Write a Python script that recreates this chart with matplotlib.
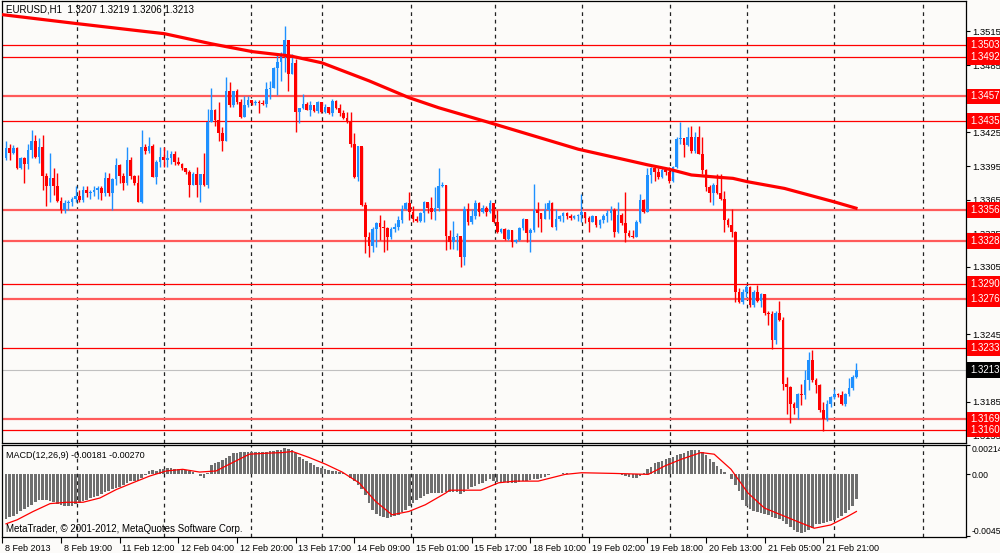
import numpy as np
import matplotlib
matplotlib.use("Agg")
import matplotlib.pyplot as plt
import matplotlib.transforms as mtransforms

# ---------------- data ----------------
first_open = 1.3402

closes = [
    1.3411, 1.3407, 1.3411, 1.3393, 1.3402, 1.3397, 1.3409, 1.3417, 1.3403, 1.3412,
    1.3386, 1.3377, 1.3384, 1.3377, 1.3364, 1.3356, 1.3362, 1.3363, 1.3366, 1.3368,
    1.3365, 1.3374, 1.3371, 1.3372, 1.3374, 1.3375, 1.3371, 1.3384, 1.3371, 1.3383,
    1.3396, 1.3386, 1.3380, 1.3400, 1.3386, 1.3380, 1.3363, 1.3412, 1.3408, 1.3413,
    1.3385, 1.3399, 1.3403, 1.3400, 1.3402, 1.3406, 1.3399, 1.3397, 1.3393, 1.3390,
    1.3378, 1.3388, 1.3378, 1.3388, 1.3378, 1.3434, 1.3445, 1.3436, 1.3424, 1.3417,
    1.3462, 1.3449, 1.3462, 1.3452, 1.3439, 1.3449, 1.3454, 1.3451, 1.3452, 1.3451,
    1.3450, 1.3464, 1.3465, 1.3482, 1.3488, 1.3495, 1.3507, 1.3477, 1.3487, 1.3443,
    1.3447, 1.3450, 1.3445, 1.3449, 1.3444, 1.3452, 1.3443, 1.3448, 1.3442, 1.3453,
    1.3447, 1.3442, 1.3438, 1.3434, 1.3415, 1.3385, 1.3413, 1.3360, 1.3332, 1.3324,
    1.3339, 1.3344, 1.3341, 1.3340, 1.3332, 1.3339, 1.3341, 1.3347, 1.3357, 1.3362,
    1.3354, 1.3348, 1.3346, 1.3353, 1.3363, 1.3358, 1.3354, 1.3358, 1.3377, 1.3378,
    1.3333, 1.3327, 1.3332, 1.3333, 1.3314, 1.3357, 1.3345, 1.3350, 1.3362, 1.3354,
    1.3358, 1.3354, 1.3362, 1.3345, 1.3336, 1.3339, 1.3330, 1.3338, 1.3327, 1.3329,
    1.3340, 1.3348, 1.3335, 1.3338, 1.3356, 1.3353, 1.3348, 1.3356, 1.3362, 1.3341,
    1.3348, 1.3350, 1.3353, 1.3350, 1.3349, 1.3350, 1.3351, 1.3354, 1.3349, 1.3345,
    1.3350, 1.3342, 1.3347, 1.3350, 1.3353, 1.3356, 1.3336, 1.3351, 1.3344, 1.3335,
    1.3333, 1.3332, 1.3345, 1.3365, 1.3354, 1.3387, 1.3393, 1.3390, 1.3385, 1.3391,
    1.3390, 1.3382, 1.3394, 1.3419, 1.3420, 1.3414, 1.3421, 1.3408, 1.3421, 1.3406,
    1.3391, 1.3376, 1.3371, 1.3378, 1.3371, 1.3366, 1.3347, 1.3342, 1.3336, 1.3283,
    1.3274, 1.3283, 1.3287, 1.3271, 1.3283, 1.3275, 1.3281, 1.3264, 1.3263, 1.3240,
    1.3264, 1.3258, 1.3201, 1.3198, 1.3183, 1.3179, 1.3192, 1.3191, 1.3204, 1.3222,
    1.3204, 1.3200, 1.3177, 1.3169, 1.3183, 1.3189, 1.3192, 1.3191, 1.3183, 1.3192,
    1.3197, 1.3207, 1.3213,
]

highs = [
    1.3417, 1.3415, 1.3414, 1.3412, 1.3403, 1.3403, 1.3415, 1.3427, 1.3423, 1.3420,
    1.3423, 1.3389, 1.3407, 1.3393, 1.3389, 1.3367, 1.3365, 1.3365, 1.3367, 1.3377,
    1.3374, 1.3377, 1.3377, 1.3374, 1.3377, 1.3377, 1.3377, 1.3390, 1.3389, 1.3384,
    1.3402, 1.3397, 1.3389, 1.3412, 1.3403, 1.3387, 1.3387, 1.3427, 1.3415, 1.3421,
    1.3415, 1.3400, 1.3412, 1.3412, 1.3409, 1.3408, 1.3408, 1.3403, 1.3398, 1.3392,
    1.3391, 1.3390, 1.3394, 1.3388, 1.3407, 1.3446, 1.3465, 1.3446, 1.3452, 1.3430,
    1.3474, 1.3470, 1.3462, 1.3464, 1.3455, 1.3457, 1.3457, 1.3453, 1.3454, 1.3454,
    1.3454, 1.3470, 1.3471, 1.3483, 1.3495, 1.3497, 1.3520, 1.3497, 1.3495, 1.3490,
    1.3447, 1.3459, 1.3452, 1.3453, 1.3447, 1.3453, 1.3452, 1.3450, 1.3448, 1.3455,
    1.3454, 1.3450, 1.3445, 1.3443, 1.3443, 1.3424, 1.3413, 1.3412, 1.3363, 1.3336,
    1.3341, 1.3345, 1.3351, 1.3347, 1.3341, 1.3341, 1.3344, 1.3350, 1.3360, 1.3363,
    1.3372, 1.3359, 1.3350, 1.3354, 1.3364, 1.3362, 1.3367, 1.3376, 1.3393, 1.3381,
    1.3378, 1.3338, 1.3346, 1.3335, 1.3331, 1.3359, 1.3362, 1.3357, 1.3365, 1.3363,
    1.3360, 1.3359, 1.3365, 1.3356, 1.3356, 1.3340, 1.3340, 1.3339, 1.3338, 1.3330,
    1.3341, 1.3349, 1.3348, 1.3340, 1.3379, 1.3363, 1.3353, 1.3362, 1.3365, 1.3363,
    1.3357, 1.3351, 1.3354, 1.3354, 1.3352, 1.3351, 1.3352, 1.3370, 1.3354, 1.3350,
    1.3351, 1.3348, 1.3348, 1.3352, 1.3356, 1.3359, 1.3358, 1.3363, 1.3353, 1.3372,
    1.3338, 1.3338, 1.3347, 1.3370, 1.3366, 1.3393, 1.3394, 1.3393, 1.3393, 1.3393,
    1.3392, 1.3394, 1.3395, 1.3421, 1.3434, 1.3416, 1.3430, 1.3431, 1.3425, 1.3431,
    1.3421, 1.3392, 1.3378, 1.3380, 1.3388, 1.3388, 1.3373, 1.3349, 1.3357, 1.3337,
    1.3286, 1.3285, 1.3289, 1.3288, 1.3284, 1.3289, 1.3282, 1.3281, 1.3266, 1.3266,
    1.3266, 1.3275, 1.3260, 1.3207, 1.3199, 1.3185, 1.3193, 1.3201, 1.3213, 1.3229,
    1.3231, 1.3206, 1.3201, 1.3185, 1.3186, 1.3190, 1.3196, 1.3193, 1.3194, 1.3193,
    1.3206, 1.3209, 1.3219,
]

lows = [
    1.3400, 1.3400, 1.3406, 1.3392, 1.3392, 1.3380, 1.3392, 1.3402, 1.3402, 1.3398,
    1.3374, 1.3359, 1.3363, 1.3369, 1.3363, 1.3353, 1.3353, 1.3356, 1.3359, 1.3363,
    1.3363, 1.3363, 1.3367, 1.3366, 1.3368, 1.3366, 1.3365, 1.3368, 1.3368, 1.3356,
    1.3378, 1.3380, 1.3374, 1.3378, 1.3383, 1.3378, 1.3363, 1.3362, 1.3406, 1.3407,
    1.3385, 1.3379, 1.3394, 1.3394, 1.3394, 1.3397, 1.3396, 1.3396, 1.3391, 1.3388,
    1.3367, 1.3378, 1.3367, 1.3363, 1.3377, 1.3375, 1.3434, 1.3431, 1.3417, 1.3408,
    1.3417, 1.3448, 1.3448, 1.3450, 1.3438, 1.3439, 1.3448, 1.3449, 1.3449, 1.3442,
    1.3449, 1.3448, 1.3455, 1.3465, 1.3458, 1.3471, 1.3479, 1.3462, 1.3477, 1.3425,
    1.3433, 1.3446, 1.3445, 1.3440, 1.3443, 1.3442, 1.3442, 1.3442, 1.3441, 1.3440,
    1.3446, 1.3440, 1.3437, 1.3433, 1.3412, 1.3384, 1.3382, 1.3359, 1.3317, 1.3314,
    1.3318, 1.3323, 1.3329, 1.3318, 1.3320, 1.3330, 1.3336, 1.3338, 1.3344, 1.3356,
    1.3347, 1.3345, 1.3345, 1.3345, 1.3345, 1.3353, 1.3348, 1.3347, 1.3355, 1.3376,
    1.3320, 1.3321, 1.3321, 1.3320, 1.3305, 1.3307, 1.3342, 1.3343, 1.3348, 1.3350,
    1.3353, 1.3350, 1.3353, 1.3344, 1.3335, 1.3335, 1.3329, 1.3329, 1.3323, 1.3326,
    1.3328, 1.3338, 1.3327, 1.3318, 1.3336, 1.3341, 1.3336, 1.3348, 1.3348, 1.3341,
    1.3338, 1.3346, 1.3345, 1.3348, 1.3347, 1.3348, 1.3346, 1.3345, 1.3344, 1.3336,
    1.3345, 1.3341, 1.3340, 1.3344, 1.3345, 1.3347, 1.3332, 1.3335, 1.3342, 1.3327,
    1.3332, 1.3331, 1.3332, 1.3344, 1.3353, 1.3354, 1.3380, 1.3382, 1.3383, 1.3384,
    1.3387, 1.3380, 1.3381, 1.3393, 1.3415, 1.3403, 1.3413, 1.3407, 1.3407, 1.3406,
    1.3388, 1.3373, 1.3363, 1.3360, 1.3370, 1.3365, 1.3336, 1.3341, 1.3332, 1.3274,
    1.3273, 1.3272, 1.3278, 1.3269, 1.3269, 1.3274, 1.3269, 1.3262, 1.3253, 1.3232,
    1.3236, 1.3257, 1.3195, 1.3174, 1.3166, 1.3174, 1.3169, 1.3182, 1.3187, 1.3195,
    1.3202, 1.3193, 1.3176, 1.3159, 1.3168, 1.3180, 1.3187, 1.3189, 1.3182, 1.3181,
    1.3190, 1.3195, 1.3206,
]

# MACD histogram, in units of 0.00001
macd_hist = [
    -326, -311, -301, -287, -270, -252, -238, -220, -203, -189,
    -184, -189, -196, -203, -213, -223, -230, -233, -228, -218,
    -208, -196, -184, -174, -167, -154, -145, -130, -120, -110,
    -100, -91, -76, -61, -51, -49, -49, -25, -2, 25,
    32, 27, 37, 42, 47, 47, 42, 37, 34, 32,
    25, 17, 5, -12, -25, 12, 66, 86, 91, 105,
    120, 135, 154, 159, 164, 164, 164, 164, 164, 164,
    164, 164, 169, 169, 174, 179, 189, 184, 174, 154,
    130, 115, 98, 81, 66, 56, 47, 37, 32, 25,
    22, 17, 12, 0, -25, -49, -74, -105, -147, -208,
    -257, -287, -301, -311, -314, -311, -306, -294, -277, -257,
    -233, -208, -189, -169, -154, -140, -135, -135, -135, -135,
    -130, -125, -127, -130, -140, -125, -110, -91, -81, -69,
    -61, -49, -37, -47, -54, -54, -56, -61, -66, -61,
    -56, -51, -47, -44, -37, -32, -27, -20, -7, 2,
    5, 5, 7, 7, 5, 2, 0, 0, 2, 2,
    0, 0, 2, 2, 0, 2, 2, 0, -5, -12,
    -17, -27, -27, -12, 7, 37, 56, 81, 91, 100,
    110, 120, 130, 140, 147, 159, 167, 174, 179, 179,
    164, 140, 115, 91, 61, 37, 17, 0, -37, -74,
    -122, -184, -233, -252, -267, -277, -282, -287, -296, -311,
    -319, -326, -336, -360, -385, -404, -419, -424, -419, -404,
    -390, -360, -360, -355, -350, -343, -331, -319, -301, -282,
    -262, -233, -181,
]

# signal line, read at points along the curve (bar position, 0.00001 units)
signal_x = [0, 3, 7.4, 12, 16.5, 21, 25.6, 30.1, 34.6, 39.2, 43.7, 48.2, 52.8, 57.3,
            61.8, 66.4, 70.9, 75.4, 78.1, 82.7, 87.2, 91.7, 96.3, 100.8, 105.3, 109.9,
            114.4, 120, 121, 129.5, 134.4, 138.9, 145.2, 152.5, 157, 166, 175.2, 179.7,
            184.2, 189.6, 193.2, 197.8, 202.4, 206.9, 211.4, 215.9, 220.5, 225, 229.6, 232]
signal_y = [-360, -331, -270, -213, -203, -203, -172, -110, -61, -12, 25, 37, 17, 25,
            86, 147, 154, 159, 167, 123, 74, 17, -61, -196, -294, -270,
            -221, -135, -115, -115, -61, -49, -49, 0, 12, 7, 0, 61,
            110, 159, 147, 37, -135, -245, -294, -343, -392, -368, -306, -270]

# moving average (thick red curve), read at points along it
ma_x = [-1.1, 19.3, 37.8, 43.2, 56, 67.2, 77.8, 86.2, 99, 109.9, 118, 131.6, 156.1,
        169.7, 175.1, 181.1, 187, 194.2, 198.3, 202.3, 212.4, 226, 232.3]
ma_y = [1.3530, 1.3522, 1.3515, 1.3513, 1.3504, 1.3497, 1.3493, 1.3487, 1.3471, 1.3456,
        1.3447, 1.3434, 1.3410, 1.3400, 1.3396, 1.3392, 1.3387, 1.3385, 1.3384, 1.3381,
        1.3375, 1.3363, 1.3357]

levels = [1.3503, 1.3492, 1.3457, 1.3435, 1.3356, 1.3328, 1.3290, 1.3276, 1.3233, 1.3169, 1.3160]
level_bold = [False, False, True, False, True, True, False, True, False, True, False]
last_price = 1.3213

price_ticks = [1.3155, 1.3185, 1.3215, 1.3245, 1.3275, 1.3305, 1.3335, 1.3365,
               1.3395, 1.3425, 1.3455, 1.3485, 1.3515]
grid_bars = [19.3, 43.2, 66.9, 86.2, 110.4, 133.3, 157.2, 181.1, 202.1, 226, 250.2]
time_ticks = [-1, 15, 31, 47, 63, 79, 95, 111, 127, 143, 159, 175, 191, 207, 223]
time_labels = ["8 Feb 2013", "8 Feb 19:00", "11 Feb 12:00", "12 Feb 04:00", "12 Feb 20:00",
               "13 Feb 17:00", "14 Feb 09:00", "15 Feb 01:00", "15 Feb 17:00", "18 Feb 10:00",
               "19 Feb 02:00", "19 Feb 18:00", "20 Feb 13:00", "21 Feb 05:00", "21 Feb 21:00"]

# ---------------- drawing ----------------
plt.rcParams['font.family'] = ['Liberation Sans', 'DejaVu Sans']
BG = '#FCFBF9'
UP = '#1E90FF'
DOWN = '#FF0000'
FS = 6.5

fig = plt.figure(figsize=(10, 5.53), dpi=100, facecolor=BG)
ax = fig.add_axes([0.002, 0.1989, 0.964, 0.799], facecolor=BG)
axm = fig.add_axes([0.002, 0.0289, 0.964, 0.1664], facecolor=BG)

c = np.array(closes)
o = np.concatenate([[first_open], c[:-1]])
h = np.array(highs)
l = np.array(lows)
idx = np.arange(len(c))
up = c >= o
cols = np.where(up, UP, DOWN)

ax.vlines(idx, l, h, colors=cols, lw=1, zorder=3)
body = np.maximum(np.abs(c - o), 0.00003)
ax.bar(idx, body, bottom=np.minimum(o, c), width=0.72, color=cols, lw=0, zorder=4)

ax.plot(ma_x, ma_y, color=DOWN, lw=2.3, zorder=5, solid_capstyle='butt', solid_joinstyle='round')

for lv, bold in zip(levels, level_bold):
    if bold:
        ax.axhline(lv, color='#FF5A5A', lw=1.6, zorder=2)
    else:
        ax.axhline(lv, color=DOWN, lw=0.9, zorder=2)
ax.axhline(last_price, color='#C0C0C0', lw=0.8, zorder=1.5)

for g in grid_bars:
    ax.axvline(g, color='#222222', lw=0.9, ls=(0, (3, 3)), zorder=1)
    axm.axvline(g, color='#222222', lw=0.9, ls=(0, (3, 3)), zorder=1)

ax.set_xlim(-1.1, 261.9)
ax.set_ylim(1.3148, 1.3542)
ax.set_xticks([])
ax.yaxis.tick_right()
ax.set_yticks(price_ticks)
ax.set_yticklabels([f"{t:.4f}" for t in price_ticks])
ax.tick_params(axis='y', length=3, width=0.8, pad=1.2, labelsize=FS + 0.3, colors='black')

trans = mtransforms.blended_transform_factory(ax.transAxes, ax.transData)
box_kw = dict(boxstyle='square,pad=0.3', ec='none')
for lv in levels:
    ax.text(1.004, lv, f"{lv:.4f}", transform=trans, color='white', fontsize=FS + 0.5,
            va='center', ha='left', zorder=10, clip_on=False,
            bbox=dict(fc=DOWN, **box_kw))
ax.text(1.004, last_price, f"{last_price:.4f}", transform=trans, color='white',
        fontsize=FS + 0.5, va='center', ha='left', zorder=10, clip_on=False,
        bbox=dict(fc='black', **box_kw))

ax.text(0.004, 0.993, "EURUSD,H1  1.3207 1.3219 1.3206 1.3213", transform=ax.transAxes,
        va='top', ha='left', fontsize=FS + 0.5)

# MACD panel
hist = np.array(macd_hist) * 1e-5
axm.bar(idx, hist, width=0.7, color='#6E6E6E', lw=0, zorder=3)
axm.plot(signal_x, np.array(signal_y) * 1e-5, color=DOWN, lw=0.9, zorder=4)
axm.set_xlim(-1.1, 261.9)
axm.set_ylim(-0.00456, 0.00213)
axm.yaxis.tick_right()
axm.set_yticks([0.00214, 0.0, -0.00452])
axm.set_yticklabels(["0.00214", "0.00", "-0.00452"])
axm.tick_params(axis='y', length=3, width=0.8, pad=1.2, labelsize=FS - 0.3)
ylbls = axm.get_yticklabels()
ylbls[0].set_va('top')
ylbls[2].set_va('bottom')
axm.set_xticks(time_ticks)
axm.set_xticklabels(time_labels, ha='left')
axm.tick_params(axis='x', length=4, width=0.8, pad=1, labelsize=FS)
shift = mtransforms.ScaledTranslation(2 / 72, 0, fig.dpi_scale_trans)
for lbl in axm.get_xticklabels():
    lbl.set_transform(lbl.get_transform() + shift)

axm.text(0.004, 0.93, "MACD(12,26,9) -0.00181 -0.00270", transform=axm.transAxes,
         va='top', ha='left', fontsize=FS)
axm.text(0.004, 0.03, "MetaTrader, \u00a9 2001-2012, MetaQuotes Software Corp.",
         transform=axm.transAxes, va='bottom', ha='left', fontsize=FS + 0.5)

for a in (ax, axm):
    for s in a.spines.values():
        s.set_color('black')
        s.set_linewidth(0.9)

fig.savefig("out.png", dpi=100, facecolor=BG)
